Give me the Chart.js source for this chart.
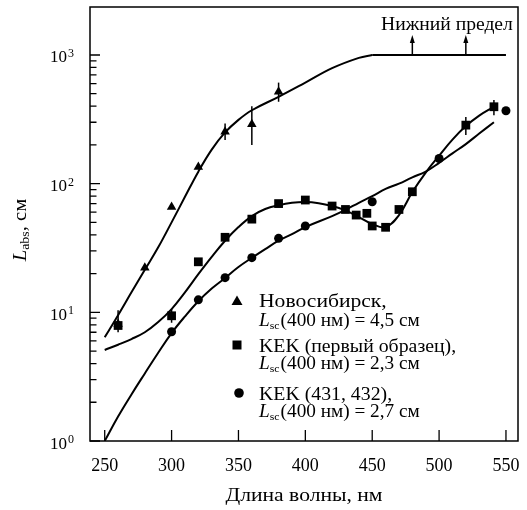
<!DOCTYPE html>
<html lang="ru">
<head>
<meta charset="UTF-8">
<title>L_abs от длины волны</title>
<script src="https://cdn.jsdelivr.net/npm/chart.js@4/dist/chart.umd.min.js"></script>
<style>
  html, body { margin: 0; padding: 0; background: #fff; }
  #chart { display: block; }
</style>
</head>
<body>
<canvas id="chart" width="527" height="510"></canvas>
<script>
  const SERIF = '"Liberation Serif", "Times New Roman", serif';

  // axis ticks
  const xTicks = [250, 300, 350, 400, 450, 500, 550];
  const yTicks = [1, 10, 100, 1000];
  const yExp = ['0', '1', '2', '3'];
  const yMinor = [2, 3, 4, 5, 6, 7, 8, 9, 20, 30, 40, 50, 60, 70, 80, 90,
                  200, 300, 400, 500, 600, 700, 800, 900];

  // measured points
  const novoX = [260, 280, 300, 320, 340, 360, 380];
  const novoY = [8.1, 22.2, 66, 135, 253, 290, 518];
  const kekAX = [260, 300, 320, 340, 360, 380, 400, 420, 430, 438, 446, 450, 460, 470, 480, 520, 541];
  const kekAY = [7.9, 9.4, 24.7, 38.3, 53, 70, 74.6, 67, 63, 57, 58.8, 46.9, 45.8, 63, 86.5, 285, 396];
  const kekBX = [300, 320, 340, 360, 380, 400, 450, 500, 550];
  const kekBY = [7.07, 12.5, 18.6, 26.6, 37.6, 46.9, 72.4, 157, 369];

  // fitted curves
  const fitNovoX = [250, 260, 270, 280, 290, 300, 310, 320, 330, 340, 350, 360, 380, 400, 420, 440, 450];
  const fitNovoY = [6.4, 9.5, 14.3, 21.4, 32, 50, 79, 124, 184, 250, 313, 372, 473, 610, 790, 950, 1000];
  const limLineX = [450, 550];
  const limLineY = [1000, 1000];
  const fitKekAX = [250, 260, 270, 280, 290, 300, 310, 320, 330, 340, 350, 360, 370, 380, 390, 400, 410, 420, 430, 440, 450, 460, 470, 480, 490, 500, 510, 520, 530, 541];
  const fitKekAY = [5.1, 5.6, 6.2, 7.0, 8.4, 10.6, 14.3, 19.8, 27, 36, 46, 56, 63.5, 68, 71, 72, 70.5, 67, 62, 55, 48.5, 46, 57, 86, 122, 165, 220, 280, 338, 396];
  const fitKekBX = [250, 260, 270, 280, 290, 300, 310, 320, 330, 340, 350, 360, 370, 380, 390, 400, 420, 430, 440, 450, 460, 470, 480, 490, 500, 510, 520, 530, 541];
  const fitKekBY = [1.0, 1.55, 2.3, 3.35, 4.85, 6.9, 9.3, 12.2, 15.3, 18.5, 22.5, 26.5, 31, 36, 40.5, 46, 56, 62.6, 71, 80, 91, 100, 112, 124, 145, 172, 203, 245, 300];

  // error bars and lower limits
  const errX = [260, 300, 340, 360, 380, 520, 541];
  const errLo = [7.0, 8.3, 218, 200, 433, 239, 340];
  const errHi = [10.4, 10.6, 294, 400, 610, 330, 446];
  const limitX = [480, 520];
  const limitY = [1000, 1000];
  const limitTop = [1430, 1430];

  const pts = (xs, ys) => xs.map((v, i) => ({ x: v, y: ys[i] }));

  const fitLine = (xs, ys) => ({
    data: pts(xs, ys), showLine: true, pointRadius: 0, borderColor: '#000',
    borderWidth: 2, tension: 0.4, fill: false
  });
  const marks = (xs, ys, style, r) => ({
    data: pts(xs, ys), showLine: false, pointStyle: style, pointRadius: r,
    backgroundColor: '#000', borderColor: '#000', borderWidth: 0
  });

  // text stretched horizontally to match the original typeface width
  function wide(ctx, str, x, y, sx) {
    ctx.save();
    ctx.translate(x, y);
    ctx.scale(sx, 1);
    ctx.fillText(str, 0, 0);
    ctx.restore();
  }

  function lsc(ctx, x, yc, rest, sx) {
    const base = yc + 6;
    ctx.save();
    ctx.translate(x, base);
    ctx.scale(sx, 1);
    ctx.textAlign = 'left';
    ctx.textBaseline = 'alphabetic';
    let cx = 0;
    ctx.font = 'italic 18px ' + SERIF;
    ctx.fillText('L', cx, 0);
    cx += ctx.measureText('L').width;
    ctx.font = '11px ' + SERIF;
    ctx.fillText('sc', cx, 3);
    cx += ctx.measureText('sc').width + 1;
    ctx.font = '18px ' + SERIF;
    ctx.fillText(rest, cx, 0);
    ctx.restore();
  }

  const decor = {
    id: 'decor',
    afterDatasetsDraw(chart) {
      const { ctx, scales: { x, y } } = chart;
      ctx.save();
      ctx.strokeStyle = '#000';
      ctx.fillStyle = '#000';
      ctx.lineWidth = 1.5;
      errX.forEach((v, i) => {
        const px = x.getPixelForValue(v);
        ctx.beginPath();
        ctx.moveTo(px, y.getPixelForValue(errLo[i]));
        ctx.lineTo(px, y.getPixelForValue(errHi[i]));
        ctx.stroke();
      });
      limitX.forEach((v, i) => {
        const px = x.getPixelForValue(v);
        const y0 = y.getPixelForValue(limitY[i]);
        const y1 = y.getPixelForValue(limitTop[i]);
        ctx.beginPath();
        ctx.moveTo(px, y0);
        ctx.lineTo(px, y1 + 6);
        ctx.stroke();
        ctx.beginPath();
        ctx.moveTo(px, y1);
        ctx.lineTo(px - 2.5, y1 + 8);
        ctx.lineTo(px + 2.5, y1 + 8);
        ctx.closePath();
        ctx.fill();
      });
      ctx.restore();
    },
    afterDraw(chart) {
      const { ctx, chartArea: a, scales: { x, y } } = chart;
      ctx.save();
      ctx.strokeStyle = '#000';
      ctx.fillStyle = '#000';
      ctx.lineWidth = 1.5;
      ctx.strokeRect(a.left, a.top, a.right - a.left, a.bottom - a.top);

      // inward ticks
      ctx.lineWidth = 1.3;
      ctx.beginPath();
      xTicks.forEach(v => {
        const px = x.getPixelForValue(v);
        ctx.moveTo(px, a.bottom);
        ctx.lineTo(px, a.bottom - 11);
      });
      yTicks.forEach(v => {
        const py = y.getPixelForValue(v);
        ctx.moveTo(a.left, py);
        ctx.lineTo(a.left + 10, py);
      });
      yMinor.forEach(v => {
        const py = y.getPixelForValue(v);
        ctx.moveTo(a.left, py);
        ctx.lineTo(a.left + 6.5, py);
      });
      ctx.stroke();

      // tick labels
      ctx.font = '18px ' + SERIF;
      ctx.textAlign = 'center';
      ctx.textBaseline = 'middle';
      xTicks.forEach(v => ctx.fillText(String(v), x.getPixelForValue(v), 466));
      yTicks.forEach((v, i) => {
        const py = y.getPixelForValue(v);
        ctx.textBaseline = 'alphabetic';
        ctx.textAlign = 'right';
        ctx.font = '17px ' + SERIF;
        ctx.fillText('10', 67, py + 7.5);
        ctx.textAlign = 'left';
        ctx.font = '12px ' + SERIF;
        ctx.fillText(yExp[i], 68, py + 2);
      });

      // axis titles
      ctx.font = '18px ' + SERIF;
      ctx.textAlign = 'center';
      ctx.textBaseline = 'middle';
      wide(ctx, 'Длина волны, нм', (a.left + a.right) / 2, 496, 1.2);

      ctx.save();
      ctx.translate(20, 230);
      ctx.rotate(-Math.PI / 2);
      ctx.scale(1.15, 1);
      ctx.textBaseline = 'alphabetic';
      ctx.textAlign = 'left';
      ctx.font = 'italic 18px ' + SERIF;
      const wL = ctx.measureText('L').width;
      ctx.font = '12px ' + SERIF;
      const wS = ctx.measureText('abs').width;
      ctx.font = '18px ' + SERIF;
      const wR = ctx.measureText(', см').width;
      let tx = -(wL + wS + wR) / 2;
      ctx.font = 'italic 18px ' + SERIF;
      ctx.fillText('L', tx, 6);
      tx += wL;
      ctx.font = '12px ' + SERIF;
      ctx.fillText('abs', tx, 9);
      tx += wS;
      ctx.font = '18px ' + SERIF;
      ctx.fillText(', см', tx, 6);
      ctx.restore();

      // lower-limit note
      ctx.font = '18px ' + SERIF;
      ctx.textAlign = 'left';
      ctx.textBaseline = 'middle';
      wide(ctx, 'Нижний предел', 381, 25, 1.09);

      // legend
      ctx.beginPath();
      ctx.moveTo(237, 295.5);
      ctx.lineTo(242.5, 305);
      ctx.lineTo(231.5, 305);
      ctx.closePath();
      ctx.fill();
      ctx.fillRect(232.5, 340.5, 9, 9);
      ctx.beginPath();
      ctx.arc(239, 393, 4.8, 0, Math.PI * 2);
      ctx.fill();

      ctx.textAlign = 'left';
      ctx.textBaseline = 'alphabetic';
      ctx.font = '18px ' + SERIF;
      wide(ctx, 'Новосибирск,', 259, 300.5 + 6, 1.2);
      lsc(ctx, 259, 320, '(400 нм) = 4,5 см', 1.07);
      ctx.font = '18px ' + SERIF;
      wide(ctx, 'KEK (первый образец),', 259, 346 + 6, 1.1);
      lsc(ctx, 259, 362.5, '(400 нм) = 2,3 см', 1.07);
      ctx.font = '18px ' + SERIF;
      wide(ctx, 'KEK (431, 432),', 259, 394 + 6, 1.1);
      lsc(ctx, 259, 411, '(400 нм) = 2,7 см', 1.07);
      ctx.restore();
    }
  };

  new Chart(document.getElementById('chart'), {
    type: 'scatter',
    data: {
      datasets: [
        fitLine(fitNovoX, fitNovoY),
        fitLine(limLineX, limLineY),
        fitLine(fitKekAX, fitKekAY),
        fitLine(fitKekBX, fitKekBY),
        marks(novoX, novoY, 'triangle', 5.5),
        marks(kekAX, kekAY, 'rect', 6.2),
        marks(kekBX, kekBY, 'circle', 4.5)
      ]
    },
    options: {
      responsive: false,
      animation: false,
      events: [],
      layout: { padding: { top: 7, right: 9, left: 0, bottom: 0 } },
      plugins: { legend: { display: false }, tooltip: { enabled: false } },
      scales: {
        x: {
          type: 'linear', min: 239, max: 559,
          grid: { display: false }, border: { display: false },
          ticks: { display: false },
          afterFit: s => { s.height = 69; }
        },
        y: {
          type: 'logarithmic', min: 1, max: 2360,
          grid: { display: false }, border: { display: false },
          ticks: { display: false },
          afterFit: s => { s.width = 90; }
        }
      }
    },
    plugins: [decor]
  });
</script>
</body>
</html>
